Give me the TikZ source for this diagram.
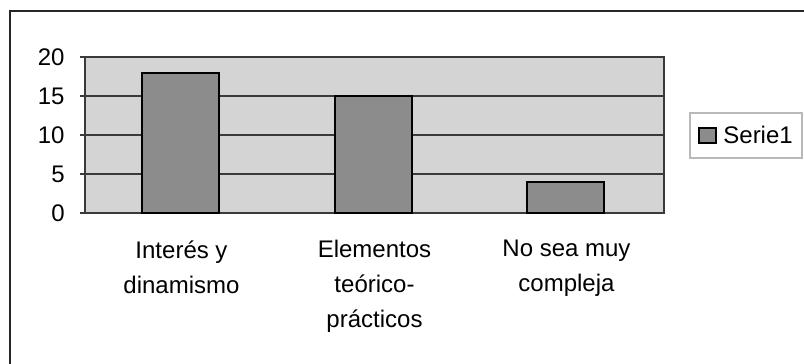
\documentclass[tikz,border=0pt]{standalone}
\usepackage{fontspec}
\setmainfont{Liberation Sans}
\definecolor{plotgray}{HTML}{D4D4D4}
\definecolor{bargray}{HTML}{8C8C8C}
\definecolor{gridgray}{HTML}{3A3A3A}
\tikzset{
	bar/.style={draw=black,line width=1pt,fill=bargray},
	ticklabel/.style={anchor=east,inner sep=0pt},
	catlabel/.style={align=center,anchor=north,inner sep=0pt,font=\fontsize{12}{17.5}\selectfont},
}
\begin{document}
\begin{tikzpicture}[x=0.5pt,y=-0.5pt,font=\fontsize{12}{14}\selectfont]
	\useasboundingbox (0,0) rectangle (804,364);
	\draw[line width=1.2pt,black!85] (10,364) -- (10,11) -- (804,11);
	\fill[plotgray] (85,57) rectangle (664,213);
	\foreach \v in {5,10,15}
	{
		\draw[gridgray,line width=0.8pt] (85,213-7.8*\v) -- (664,213-7.8*\v);
		};
	\foreach \v in {0,5,...,20}
	{
		\draw[gridgray,line width=0.8pt] (80,213-7.8*\v) -- (85,213-7.8*\v);
		\node[ticklabel] (tick\v) at (65,213-7.8*\v) {\v};
		}
	\draw[gridgray,line width=1pt] (85,57) rectangle (664,213);
	\foreach \x/\h in {142/18,335/15,527/4}
	{
		\draw[bar] (\x,213) rectangle (\x+77,213-7.8*\h);
		}
	\node[catlabel] (interes) at (181.5,240) {Interés y\\dinamismo};
	\node[catlabel] (elementos) at (374.5,240) {Elementos\\teórico-\\prácticos};
	\node[catlabel] (compleja) at (566.5,240) {No sea muy\\compleja};
	\draw[gray!55,line width=0.6pt] (690,113) rectangle (802,158);
	\draw[bar,line width=0.8pt] (699,128) rectangle (716,143);
	\node[anchor=west,inner sep=0pt] (serie) at (723,135) {Serie1};
\end{tikzpicture}
\end{document}
